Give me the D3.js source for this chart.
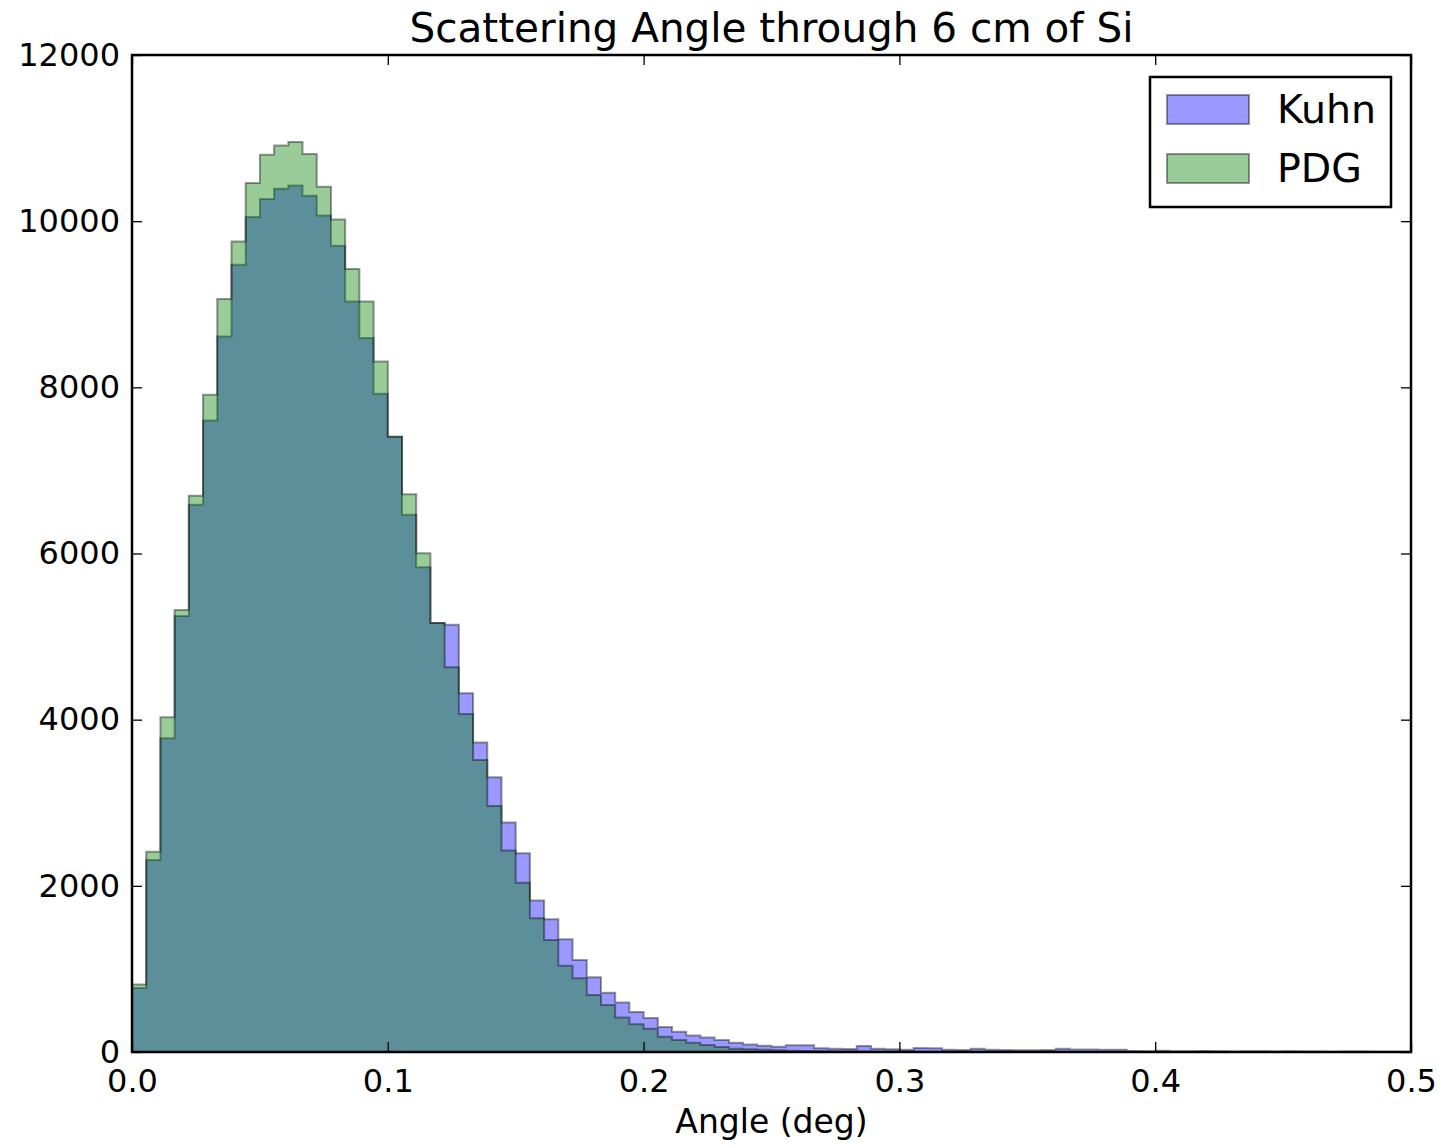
<!DOCTYPE html>
<html>
<head>
<meta charset="utf-8">
<script src="https://cdn.jsdelivr.net/npm/d3@7"></script>
<style>
  body { margin: 0; background: #fff; }
  svg { font-family: "DejaVu Sans", sans-serif; }
</style>
</head>
<body>
<div class="graph"></div>
<script>
// contenido del histograma: 90 bins entre 0 y 0.5 grados
const binStart = 0, binEnd = 0.5, nBins = 90

const kuhn = [
  770, 2312, 3777, 5249, 6586, 7601, 8612, 9475, 10049, 10266,
  10390, 10430, 10306, 10067, 9704, 9034, 8593, 7922, 7405, 6465,
  5836, 5165, 5141, 4319, 3724, 3307, 2761, 2392, 1822, 1598,
  1357, 1108, 899, 714, 595, 480, 410, 300, 245, 200,
  175, 145, 110, 90, 74, 64, 82, 80, 44, 40,
  36, 72, 40, 34, 28, 48, 44, 28, 24, 40,
  28, 24, 20, 20, 24, 38, 30, 30, 28, 28,
  12, 10, 14, 8, 10, 12, 8, 6, 10, 8,
  6, 8, 5, 6, 4, 6, 5, 4, 3, 4
]

const pdg = [
  813, 2411, 4030, 5321, 6694, 7910, 9062, 9756, 10459, 10799,
  10912, 10952, 10808, 10414, 10021, 9423, 9034, 8311, 7405, 6714,
  6004, 5165, 4632, 4069, 3516, 2962, 2424, 2038, 1610, 1348,
  1039, 887, 686, 566, 415, 335, 280, 185, 144, 110,
  85, 60, 40, 32, 26, 20, 15, 12, 10, 9,
  8, 7, 6, 5, 5, 4, 4, 3, 3, 3,
  2, 2, 2, 2, 2, 2, 1, 1, 1, 1,
  1, 1, 1, 0, 1, 0, 0, 1, 0, 0,
  0, 0, 0, 0, 0, 0, 0, 0, 0, 0
]

const xTicks = [0, 0.1, 0.2, 0.3, 0.4, 0.5]
const yTicks = [0, 2000, 4000, 6000, 8000, 10000, 12000]

const seriesNames = ['Kuhn', 'PDG']
const seriesColors = ['#0000ff', '#008000']

// tamaño
const width = 1442, height = 1146
const mLeft = 132, mRight = 1411, mTop = 55, mBottom = 1052

const svg = d3.select('.graph')
  .append('svg')
  .attr('width', width)
  .attr('height', height)

const xScale = d3.scaleLinear().domain([0, 0.5]).range([mLeft, mRight])
const yScale = d3.scaleLinear().domain([0, 12000]).range([mBottom, mTop])

const binW = (binEnd - binStart) / nBins

// pasos del histograma (stepfilled)
const area = d3.area()
  .x(d => xScale(d[0]))
  .y0(yScale(0))
  .y1(d => yScale(d[1]))
  .curve(d3.curveStepAfter)

const toSteps = vals => {
  const pts = vals.map((v, i) => [binStart + i * binW, v])
  pts.push([binEnd, vals[vals.length - 1]])
  return pts
}

;[kuhn, pdg].forEach((vals, k) => {
  svg.append('path')
    .attr('d', area(toSteps(vals)) + 'Z')
    .attr('fill', seriesColors[k])
    .attr('fill-opacity', 0.4)
    .attr('stroke', '#000')
    .attr('stroke-opacity', 0.4)
    .attr('stroke-width', 2)
    .attr('stroke-linejoin', 'miter')
})

// Ejes (ticks hacia adentro, en los cuatro lados)
const tickFmtX = d3.format('.1f')
const xAxisB = d3.axisBottom(xScale).tickValues(xTicks).tickFormat(tickFmtX)
  .tickSizeInner(-10).tickSizeOuter(0).tickPadding(17)
const xAxisT = d3.axisTop(xScale).tickValues(xTicks).tickFormat('')
  .tickSizeInner(-10).tickSizeOuter(0)
const yAxisL = d3.axisLeft(yScale).tickValues(yTicks).tickFormat(d3.format('d'))
  .tickSizeInner(-10).tickSizeOuter(0).tickPadding(12)
const yAxisR = d3.axisRight(yScale).tickValues(yTicks).tickFormat('')
  .tickSizeInner(-10).tickSizeOuter(0)

const styleAxis = g => {
  g.select('.domain').remove()
  g.attr('font-family', null)
  g.selectAll('.tick line').attr('stroke', '#000').attr('stroke-width', 1.3)
  g.selectAll('.tick text')
    .attr('fill', '#000')
    .style('font-family', '"DejaVu Sans", sans-serif')
    .style('font-size', '32px')
}

svg.append('g').attr('transform', `translate(0,${mBottom})`).call(xAxisB).call(styleAxis)
svg.append('g').attr('transform', `translate(0,${mTop})`).call(xAxisT).call(styleAxis)
svg.append('g').attr('transform', `translate(${mLeft},0)`).call(yAxisL).call(styleAxis)
svg.append('g').attr('transform', `translate(${mRight},0)`).call(yAxisR).call(styleAxis)

// marco
svg.append('rect')
  .attr('x', mLeft).attr('y', mTop)
  .attr('width', mRight - mLeft).attr('height', mBottom - mTop)
  .attr('fill', 'none')
  .attr('stroke', '#000')
  .attr('stroke-width', 2.5)

// titulo y etiqueta
svg.append('text')
  .text('Scattering Angle through 6 cm of Si')
  .attr('x', (mLeft + mRight) / 2)
  .attr('y', 42)
  .attr('text-anchor', 'middle')
  .style('font-size', '40.5px')

svg.append('text')
  .text('Angle (deg)')
  .attr('x', (mLeft + mRight) / 2)
  .attr('y', 1133)
  .attr('text-anchor', 'middle')
  .style('font-size', '33px')

// Legend
const legend = svg.append('g')
legend.append('rect')
  .attr('x', 1150).attr('y', 77)
  .attr('width', 241).attr('height', 130)
  .attr('fill', '#fff')
  .attr('stroke', '#000')
  .attr('stroke-width', 2.5)

seriesNames.forEach((name, k) => {
  legend.append('rect')
    .attr('x', 1167).attr('y', 95 + k * 59)
    .attr('width', 82).attr('height', 29)
    .attr('fill', seriesColors[k])
    .attr('fill-opacity', 0.4)
    .attr('stroke', '#000')
    .attr('stroke-opacity', 0.4)
    .attr('stroke-width', 2)
  legend.append('text')
    .text(name)
    .attr('x', 1277)
    .attr('y', 123 + k * 59)
    .style('font-size', '39.5px')
})
</script>
</body>
</html>
